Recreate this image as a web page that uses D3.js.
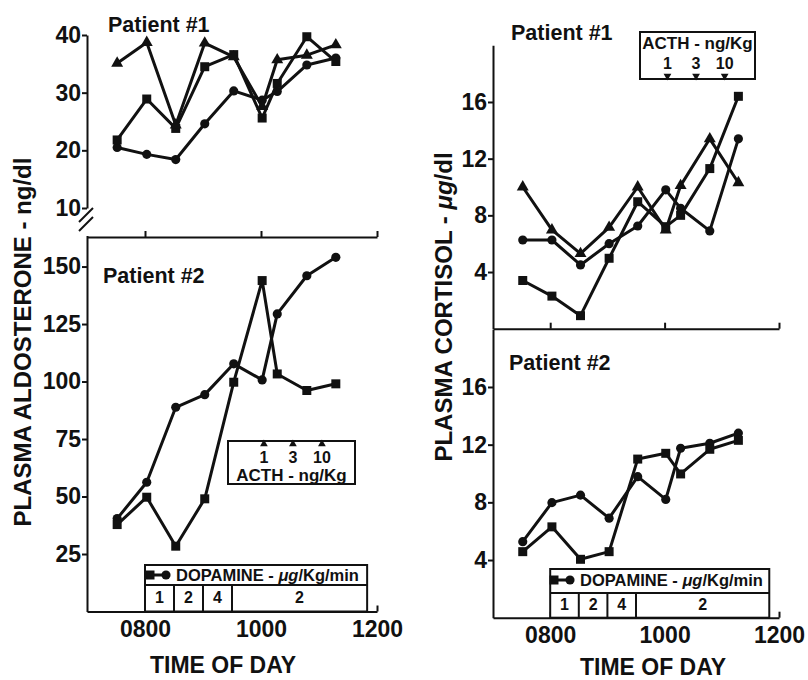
<!DOCTYPE html>
<html>
<head>
<meta charset="utf-8">
<script src="https://cdn.jsdelivr.net/npm/d3@7"></script>
<style>
  body { margin: 0; background: #fff; }
  svg { display: block; font-family: "Liberation Sans", Arial, Helvetica, sans-serif; font-weight: bold; }
</style>
</head>
<body>
<svg id="chart" width="808" height="680"></svg>
<script>
// sampling times, decimal hours of the day
const times = [7.52, 8.03, 8.53, 9.03, 9.53, 10.02, 10.28, 10.79, 11.29];

// plasma aldosterone (ng/dl)
const aldo1Tri = [35.1, 38.7, 24.4, 38.6, 36.2, 27.6, 35.7, 36.5, 38.3];
const aldo1Sq = [21.8, 28.9, 23.8, 34.5, 36.6, 25.6, 31.6, 39.7, 35.4];
const aldo1Circ = [20.5, 19.3, 18.4, 24.6, 30.3, 28.7, 30.2, 34.8, 36.0];
const aldo2Sq = [37.8, 49.7, 28.4, 49.0, 99.7, 143.9, 103.3, 96.1, 99.0];
const aldo2Circ = [40.4, 56.2, 88.8, 94.3, 107.7, 100.7, 129.4, 146.0, 154.0];

// plasma cortisol (ug/dl)
const cort1Tri = [10.0, 6.97, 5.3, 7.15, 10.0, 6.97, 10.1, 13.4, 10.3];
const cort1Circ = [6.26, 6.26, 4.5, 6.0, 7.25, 9.8, 8.5, 6.9, 13.4];
const cort1Sq = [3.4, 2.3, 0.92, 4.97, 8.96, 7.2, 8.0, 11.3, 16.4];
const cort2Circ = [5.27, 7.98, 8.5, 6.9, 9.78, 8.2, 11.75, 12.1, 12.8];
const cort2Sq = [4.58, 6.3, 4.05, 4.58, 11.0, 11.4, 9.97, 11.68, 12.3];

// axes
const xTicks = [8, 10, 12];
const xTickLabels = ["0800", "1000", "1200"];
const aldo1Ticks = [10, 20, 30, 40];
const aldo2Ticks = [25, 50, 75, 100, 125, 150];
const cortTicks = [4, 8, 12, 16];

// infusions
const acthTimes = [10.05, 10.55, 11.05];
const acthDoses = ["1", "3", "10"];
const dopaEdges = [8, 8.5, 9, 9.5, 11.83];
const dopaDoses = ["1", "2", "4", "2"];

const ink = "#111";
const svg = d3.select("#chart");

// scales
const xL = d3.scaleLinear().domain([7, 12]).range([87, 377]);
const xR = d3.scaleLinear().domain([7, 12]).range([493, 779]);
const yLT = d3.scaleLinear().domain([10, 40]).range([208, 35]);
const yLB = d3.scaleLinear().domain([0, 163.5]).range([611.5, 235.5]);
const yRT = d3.scaleLinear().domain([0, 20]).range([328.7, 45.3]);
const yRB = d3.scaleLinear().domain([0, 20]).range([617.7, 329.3]);

const shapes = {
  circle: d3.symbol().type(d3.symbolCircle).size(66),
  square: d3.symbol().type(d3.symbolSquare).size(81),
  triangle: d3.symbol().type(d3.symbolTriangle).size(62)
};

function styleAxis(g) {
  g.select(".domain").attr("stroke", ink).attr("stroke-width", 2);
  g.selectAll(".tick line").attr("stroke", ink).attr("stroke-width", 2);
  g.selectAll(".tick text").attr("fill", ink)
    .style("font-size", "23px").style("font-weight", "bold")
    .style("font-family", "'Liberation Sans', Arial, sans-serif");
}

function yAxis(x, y, ticks) {
  svg.append("g")
    .attr("transform", `translate(${x.range()[0]},0)`)
    .call(d3.axisLeft(y).tickValues(ticks).tickSizeInner(5).tickSizeOuter(0).tickPadding(1))
    .call(styleAxis);
}

function xAxis(x, yPos, labels) {
  svg.append("g")
    .attr("transform", `translate(0,${yPos})`)
    .call(d3.axisBottom(x).tickValues(xTicks).tickSizeInner(-6).tickSizeOuter(0)
      .tickPadding(9).tickFormat((d, i) => labels ? xTickLabels[i] : ""))
    .call(styleAxis);
}

function series(x, y, values, shape) {
  const pts = values.map((v, i) => ({ t: times[i], v }));
  const g = svg.append("g");
  g.append("path")
    .datum(pts)
    .attr("fill", "none")
    .attr("stroke", ink)
    .attr("stroke-width", 3)
    .attr("stroke-linejoin", "round")
    .attr("d", d3.line().x(d => x(d.t)).y(d => y(d.v)));
  g.selectAll("path.pt")
    .data(pts)
    .join("path")
    .attr("class", "pt")
    .attr("transform", d => `translate(${x(d.t)},${y(d.v)})`)
    .attr("d", shapes[shape])
    .attr("fill", ink);
}

function label(x, y, txt, size, anchor) {
  return svg.append("text")
    .attr("x", x).attr("y", y)
    .attr("fill", ink)
    .style("font-size", size + "px")
    .style("text-anchor", anchor || "start")
    .text(txt);
}

function dopamineBox(x, top, mid, bottom, symX, textX, textY, numY) {
  const g = svg.append("g");
  const x0 = x(dopaEdges[0]), x1 = x(dopaEdges[dopaEdges.length - 1]);
  g.append("rect")
    .attr("x", x0).attr("y", top)
    .attr("width", x1 - x0).attr("height", bottom - top)
    .attr("fill", "#fff").attr("stroke", ink).attr("stroke-width", 2);
  g.append("line")
    .attr("x1", x0).attr("x2", x1).attr("y1", mid).attr("y2", mid)
    .attr("stroke", ink).attr("stroke-width", 2);
  g.selectAll("line.div")
    .data(dopaEdges.slice(1, -1))
    .join("line")
    .attr("class", "div")
    .attr("x1", d => x(d)).attr("x2", d => x(d))
    .attr("y1", mid).attr("y2", bottom)
    .attr("stroke", ink).attr("stroke-width", 2);
  g.selectAll("text.dose")
    .data(dopaDoses)
    .join("text")
    .attr("class", "dose")
    .attr("x", (d, i) => (x(dopaEdges[i]) + x(dopaEdges[i + 1])) / 2)
    .attr("y", numY)
    .attr("fill", ink)
    .style("font-size", "16px")
    .style("text-anchor", "middle")
    .text(d => d);
  // legend symbol: square joined to circle
  g.append("line")
    .attr("x1", symX).attr("x2", symX + 16).attr("y1", textY - 6).attr("y2", textY - 6)
    .attr("stroke", ink).attr("stroke-width", 3);
  g.append("path").attr("transform", `translate(${symX},${textY - 6})`)
    .attr("d", shapes.square).attr("fill", ink);
  g.append("path").attr("transform", `translate(${symX + 16},${textY - 6})`)
    .attr("d", shapes.circle).attr("fill", ink);
  const t = g.append("text")
    .attr("x", textX).attr("y", textY)
    .attr("fill", ink)
    .style("font-size", "16.5px");
  t.append("tspan").text("DOPAMINE - ");
  t.append("tspan").style("font-style", "italic").text("\u03bcg");
  t.append("tspan").text("/Kg/min");
}

function acthBox(x, bx, by, bw, bh, arrowY, up, numY, textY) {
  const g = svg.append("g");
  g.append("rect")
    .attr("x", bx).attr("y", by).attr("width", bw).attr("height", bh)
    .attr("fill", "#fff").attr("stroke", ink).attr("stroke-width", 2);
  g.selectAll("path.arrow")
    .data(acthTimes)
    .join("path")
    .attr("class", "arrow")
    .attr("transform", d => `translate(${x(d)},${arrowY}) rotate(${up ? 0 : 180})`)
    .attr("d", d3.symbol().type(d3.symbolTriangle).size(26))
    .attr("fill", ink);
  g.selectAll("text.num")
    .data(acthDoses)
    .join("text")
    .attr("class", "num")
    .attr("x", (d, i) => x(acthTimes[i]))
    .attr("y", numY)
    .attr("fill", ink)
    .style("font-size", "16px")
    .style("text-anchor", "middle")
    .text(d => d);
  g.append("text")
    .attr("x", bx + bw / 2).attr("y", textY)
    .attr("fill", ink)
    .style("font-size", "17px")
    .style("text-anchor", "middle")
    .text("ACTH - ng/Kg");
}

// ---- left: aldosterone ----
yAxis(xL, yLT, aldo1Ticks);
yAxis(xL, yLB, aldo2Ticks);
xAxis(xL, 237, false);
xAxis(xL, 611.5, true);

// axis break marks
const ax = xL(7);
svg.append("rect").attr("x", ax - 3).attr("y", 210).attr("width", 6).attr("height", 16).attr("fill", "#fff");
[[222, 208], [231, 217]].forEach(([a, b]) => {
  svg.append("line")
    .attr("x1", ax - 8).attr("y1", a).attr("x2", ax + 6).attr("y2", b)
    .attr("stroke", ink).attr("stroke-width", 2);
});

series(xL, yLT, aldo1Circ, "circle");
series(xL, yLT, aldo1Sq, "square");
series(xL, yLT, aldo1Tri, "triangle");
series(xL, yLB, aldo2Circ, "circle");
series(xL, yLB, aldo2Sq, "square");

acthBox(xL, 228, 441, 127, 43, 444, true, 463, 481);
dopamineBox(xL, 565, 585, 611.5, 150, 176, 581, 603);

label(108, 32, "Patient #1", 21.5);
label(103, 283, "Patient #2", 21.5);
label(223, 673, "TIME OF DAY", 23, "middle");
label(0, 0, "PLASMA ALDOSTERONE - ng/dl", 24, "middle")
  .attr("transform", "translate(31,342) rotate(-90)");

// ---- right: cortisol ----
yAxis(xR, yRT, cortTicks);
yAxis(xR, yRB, cortTicks);
xAxis(xR, 328.7, false);
xAxis(xR, 617.7, true);

series(xR, yRT, cort1Circ, "circle");
series(xR, yRT, cort1Sq, "square");
series(xR, yRT, cort1Tri, "triangle");
series(xR, yRB, cort2Circ, "circle");
series(xR, yRB, cort2Sq, "square");

acthBox(xR, 640, 32, 115, 47, 76, false, 69, 49);
dopamineBox(xR, 569, 593, 617.7, 554, 580, 586, 610);

label(511, 40, "Patient #1", 21.5);
label(509, 370, "Patient #2", 21.5);
label(653, 675, "TIME OF DAY", 23, "middle");
const rt = label(0, 0, "", 24, "middle").attr("transform", "translate(452,307) rotate(-90)");
rt.append("tspan").text("PLASMA CORTISOL - ");
rt.append("tspan").style("font-style", "italic").text("\u03bcg");
rt.append("tspan").text("/dl");
</script>
</body>
</html>
